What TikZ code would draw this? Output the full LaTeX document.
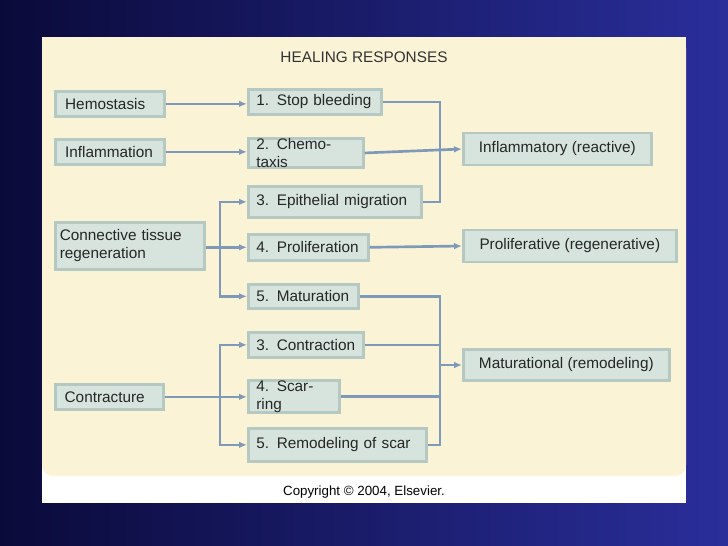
\documentclass[tikz,border=0pt]{standalone}
\usepackage{fontspec}
\setmainfont{Liberation Sans}
\usetikzlibrary{arrows.meta}
\definecolor{cream}{HTML}{FBF3D6}
\definecolor{boxf}{HTML}{D6E4DD}
\definecolor{boxd}{HTML}{B5C9C2}
\definecolor{ln}{HTML}{7F9AB8}
\definecolor{bgA}{HTML}{0A0A3A}
\definecolor{bgB}{HTML}{2A2E9A}
\begin{document}
\begin{tikzpicture}[x=0.75pt,y=-0.75pt,
  bx/.style={draw=boxd,line width=2pt,fill=boxf,inner sep=0pt,anchor=north west,font=\fontsize{11.5}{13.5}\selectfont,text=black!85},
  ln/.style={draw=ln,line width=2pt},
  ar/.style={ln,-{Latex[length=6pt,width=5pt]}}]
\useasboundingbox (0,0) rectangle (728,546);
\shade[left color=bgA,right color=bgB] (0,0) rectangle (728,546);
\fill[white] (42,37) rectangle (686,503);
\fill[cream,rounded corners=8pt] (42,37) rectangle (686,476);
\fill[cream] (42,37) rectangle (686,60);
\node[font=\fontsize{11.5}{13}\selectfont,text=black!80] (title) at (364,57) {HEALING RESPONSES};
\node[font=\fontsize{10}{12}\selectfont\rmfamily] (copy) at (364,492) {Copyright © 2004, Elsevier.};
% left
\node[bx,minimum width=109*0.75pt,minimum height=25*0.75pt,text width=100*0.75pt,align=left] (hem) at (54,90) {\hspace*{4pt}Hemostasis};
\node[bx,minimum width=109*0.75pt,minimum height=25*0.75pt,text width=100*0.75pt,align=left] (inf) at (54,138) {\hspace*{4pt}Inflammation};
\node[bx,minimum width=149*0.75pt,minimum height=47*0.75pt,text width=140*0.75pt,align=left] (con) at (54,221) {Connective tissue\\regeneration};
\node[bx,minimum width=108*0.75pt,minimum height=25*0.75pt,text width=100*0.75pt,align=left] (ctr) at (54,383) {\hspace*{4pt}Contracture};
% middle
\newcommand\mb[5]{\node[bx,minimum width=#3*0.75pt,minimum height=#4*0.75pt,text width=#3*0.75pt-12pt,align=left] (#1) at (247,#2) {#5};}
\mb{s1}{88}{133}{25}{1. Stop bleeding}
\mb{s2}{137}{115}{25}{2. Chemotaxis}
\mb{s3}{185}{173}{31}{3. Epithelial migration}
\mb{s4}{233}{120}{26}{4. Proliferation}
\mb{s5}{283}{110}{24}{5. Maturation}
\mb{c3}{331}{115}{25}{3. Contraction}
\mb{c4}{379}{91}{26}{4. Scarring}
\mb{c5}{427}{178}{33}{5. Remodeling of scar}
% right
\node[bx,minimum width=188*0.75pt,minimum height=32*0.75pt,anchor=west] (rI) at (462,149) {Inflammatory (reactive)};
\node[bx,minimum width=213*0.75pt,minimum height=32*0.75pt,anchor=west] (rP) at (462,246) {Proliferative (regenerative)};
\node[bx,minimum width=206*0.75pt,minimum height=31*0.75pt,anchor=west] (rM) at (462,365) {Maturational (remodeling)};
\coordinate (j1) at (440,149);
\coordinate (j2) at (440,365);
\coordinate (b1) at (220,246);
\coordinate (b2) at (220,395);
% connectors
\draw[ar] (hem.east) -- (hem.east -| s1.west);
\draw[ar] (inf.east) -- (inf.east -| s2.west);
\draw[ar] (con.east |- s4.west) -- (s4.west);
\draw[ar] (b1) |- (s3.west);
\draw[ar] (b1) |- (s5.west);
\draw[ar] (ctr.east) -- (ctr.east -| c4.west);
\draw[ar] (b2) |- (c3.west);
\draw[ar] (b2) |- (c5.west);
\draw[ln] (s1.east) -| (j1 |- s3.east) -- (s3.east);
\draw[ar] (s2.east) -- (rI.west);
\draw[ar] (s4.east) -- (rP.west);
\draw[ln] (s5.east) -| (j2 |- c5.east) -- (c5.east);
\draw[ln] (c3.east) -- (c3.east -| j2);
\draw[ln] (c4.east) -- (c4.east -| j2);
\draw[ar] (j2) -- (rM.west);
\end{tikzpicture}
\end{document}
